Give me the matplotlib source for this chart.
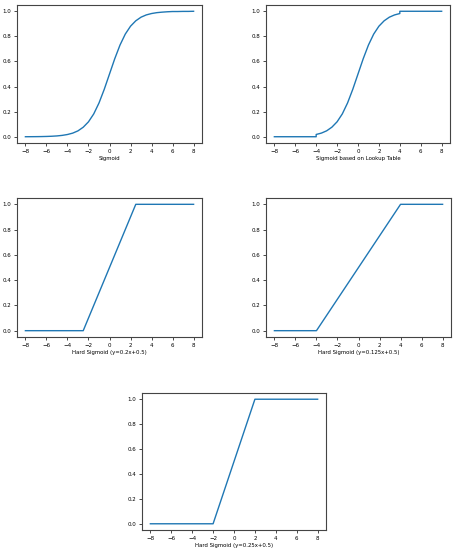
import matplotlib
matplotlib.use("Agg")
import matplotlib.pyplot as plt

sig_x = [-8, -7.5, -7, -6.5, -6, -5.5, -5, -4.5, -4, -3.5, -3, -2.5, -2, -1.5, -1, -0.5,
         0, 0.5, 1, 1.5, 2, 2.5, 3, 3.5, 4, 4.5, 5, 5.5, 6, 6.5, 7, 7.5, 8]
sig_y = [0.0003, 0.0006, 0.0009, 0.0015, 0.0025, 0.0041, 0.0067, 0.011, 0.018, 0.029,
         0.047, 0.076, 0.119, 0.182, 0.269, 0.378, 0.5, 0.622, 0.731, 0.818, 0.881,
         0.924, 0.953, 0.971, 0.982, 0.989, 0.993, 0.996, 0.998, 0.998, 0.999, 0.999, 1.0]

# lookup-table sigmoid: clamped to 0 / 1 outside [-4, 4]
lut_x = [-8, -4, -4, -3.5, -3, -2.5, -2, -1.5, -1, -0.5, 0, 0.5, 1, 1.5, 2, 2.5, 3,
         3.5, 4, 4, 8]
lut_y = [0, 0, 0.018, 0.029, 0.047, 0.076, 0.119, 0.182, 0.269, 0.378, 0.5, 0.622,
         0.731, 0.818, 0.881, 0.924, 0.953, 0.971, 0.982, 1.0, 1.0]

# hard sigmoid break points
hs02_x = [-8, -2.5, 2.5, 8]
hs02_y = [0, 0, 1, 1]
hs0125_x = [-8, -4, 4, 8]
hs0125_y = [0, 0, 1, 1]
hs025_x = [-8, -2, 2, 8]
hs025_y = [0, 0, 1, 1]

x_ticks = [-8, -6, -4, -2, 0, 2, 4, 6, 8]
y_ticks = [0.0, 0.2, 0.4, 0.6, 0.8, 1.0]

W, H = 455, 550
fig = plt.figure(figsize=(W / 100, H / 100), dpi=100)


def make_ax(left, top, right, bottom):
    """axes from pixel box"""
    return fig.add_axes([left / W, 1 - bottom / H, (right - left) / W, (bottom - top) / H])


panels = [
    ((17, 5, 202, 143), sig_x, sig_y, "Sigmoid"),
    ((266, 5, 450, 143), lut_x, lut_y, "Sigmoid based on Lookup Table"),
    ((17, 198, 202, 337), hs02_x, hs02_y, "Hard Sigmoid (y=0.2x+0.5)"),
    ((266, 198, 451, 337), hs0125_x, hs0125_y, "Hard Sigmoid (y=0.125x+0.5)"),
    ((142, 393, 326, 530), hs025_x, hs025_y, "Hard Sigmoid (y=0.25x+0.5)"),
]

for box, xs, ys, label in panels:
    ax = make_ax(*box)
    ax.plot(xs, ys, color="#1f77b4", linewidth=1.0)
    ax.set_xticks(x_ticks)
    ax.set_yticks(y_ticks)
    ax.set_xlabel(label, fontsize=3.9, labelpad=1.5)
    ax.tick_params(axis="both", labelsize=4, length=2, width=0.5, pad=2)
    for sp in ax.spines.values():
        sp.set_linewidth(0.8)
        sp.set_color("#444444")

fig.savefig("out.png", dpi=100)
